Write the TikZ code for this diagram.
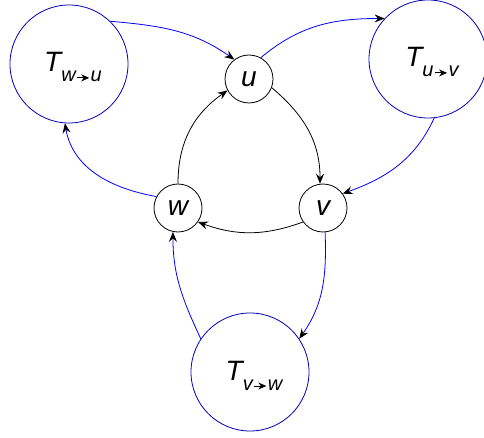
\documentclass[tikz,border=0pt]{standalone}
\usepackage{fontspec}
\setmainfont{Liberation Sans}
\usetikzlibrary{arrows.meta}

% small arrow used inside the subscripts
\newcommand{\subarr}{\tikz[baseline=0pt]{\draw[line width=1pt,-{Stealth[length=8pt,width=7pt,inset=2.5pt]}] (0pt,4pt) -- (12pt,4pt);}}
% tree label T_{a->b}
\newcommand{\tlabel}[2]{\hspace{8pt}\rule{0pt}{26pt}\itshape\fontsize{28}{28}\selectfont T\raisebox{-10pt}{\fontsize{20}{20}\selectfont #1\hspace{1pt}\subarr\hspace{1pt}#2}}

\tikzset{
  vert/.style={circle, draw=black, line width=0.8pt, minimum size=48pt, inner sep=0pt,
    font=\itshape\fontsize{28}{28}\selectfont},
  tree/.style={circle, draw=blue!75!black, line width=0.8pt, minimum size=118pt, inner sep=0pt},
  tip/.style={-{Stealth[length=10pt,width=8pt,inset=3.5pt,color=black]}},
  edge/.style={tip, draw=black, line width=0.8pt},
  bedge/.style={tip, draw=blue, line width=0.8pt},
}

\begin{document}
\begin{tikzpicture}[x=1pt,y=-1pt]
  \useasboundingbox (0,0) rectangle (484,438);

  % vertices
  \node[vert] (u) at (249,79) {u};
  \node[vert] (v) at (323,208) {v};
  \node[vert] (w) at (178,208) {w};

  % subtrees
  \node[tree] (Twu) at (69,64) {\tlabel{w}{u}};
  \node[tree] (Tuv) at (428,59) {\tlabel{u}{v}};
  \node[tree] (Tvw) at (250,372) {\tlabel{v}{w}};

  % cycle edges
  \draw[edge] (u.-21) to[out=-40,in=90] (v.97);
  \draw[edge] (v.215) to[out=200,in=-20] (w.-35);
  \draw[edge] (w.90) to[out=90,in=215] (u.208);

  % edges through the subtrees
  \draw[bedge] (Twu.46) to[out=-5,in=145] (u.127);
  \draw[bedge] (u.61) to[out=40,in=180] (Tuv.137);
  \draw[bedge] (Tuv.-84) to[out=-115,in=20] (v.36);
  \draw[bedge] (v.-85) to[out=-88,in=55] (Tvw.34);
  \draw[bedge] (Tvw.146) to[out=115,in=-90] (w.-102);
  \draw[bedge] (w.152) to[out=170,in=-80] (Twu.-94);
\end{tikzpicture}
\end{document}
